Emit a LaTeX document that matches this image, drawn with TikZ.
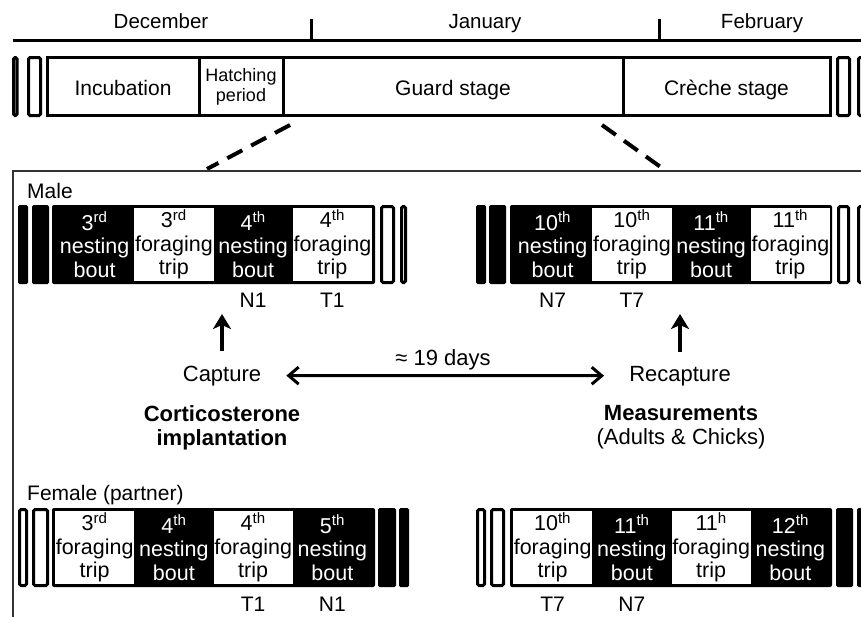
\documentclass[tikz,border=0pt]{standalone}
\usepackage{fontspec}
\setmainfont{Liberation Sans}
\usetikzlibrary{positioning}
\usetikzlibrary{arrows.meta}

\begin{document}
\begin{tikzpicture}[x=1pt,y=-1pt,
  stage/.style={draw,line width=3pt,minimum height=58pt,inner sep=0pt,outer sep=0pt,align=center,font=\fontsize{21}{24}\selectfont},
  stageline/.style={stage,text height=17pt,text depth=0pt},
  barframe/.style={fill=black,rounded corners=2pt,minimum height=79pt,inner sep=0pt,outer sep=0pt},
  nestcell/.style={text=white,minimum width=79.25pt,minimum height=73pt,inner sep=0pt,outer sep=0pt,align=center,font=\fontsize{21.5}{23.5}\selectfont},
  forcell/.style={nestcell,fill=white,text=black},
  endblack/.style={fill=black,rounded corners=1.5pt},
  endwhite/.style={draw,fill=white,line width=3pt,rounded corners=1.5pt},
  lbl/.style={inner sep=0pt,align=center,font=\fontsize{21}{24}\selectfont},
  midlbl/.style={lbl,font=\fontsize{22}{24}\selectfont},
  uparrow/.style={line width=4pt,-{Stealth[length=15pt,width=18pt,inset=4pt]}},
  spanarrow/.style={line width=3pt,{Straight Barb[length=10pt,width=17pt]}-{Straight Barb[length=10pt,width=17pt]}},
  zoomline/.style={line width=4pt,dash pattern=on 17pt off 10pt},
  frame/.style={line width=2.5pt,black!80}]
  \useasboundingbox (0,0) rectangle (861,616);
  \clip (0,0) rectangle (861,616);

  %timeline
  \node[lbl,anchor=base,font=\fontsize{20.5}{24}\selectfont] (dec) at (161,28) {December};
  \node[lbl,anchor=base,font=\fontsize{20.5}{24}\selectfont] (jan) at (485,28) {January};
  \node[lbl,anchor=base,font=\fontsize{20.5}{24}\selectfont] (feb) at (762,28) {February};
  \draw[line width=3pt] (13,40) -- (880,40);
  \draw[line width=3pt] (311,40) -- (311,19) (659,40) -- (659,19);

  %stages
  \node[stageline,minimum width=152pt] (incub) at (123,86.5) {Incubation};
  \node[stage,minimum width=84pt,right=0pt of incub,font=\fontsize{18}{20}\selectfont] (hatch) {Hatching\\period};
  \node[stageline,minimum width=340pt,right=0pt of hatch] (guard) {Guard stage};
  \node[stageline,minimum width=207pt,right=0pt of guard] (creche) {Crèche stage};
  \foreach \a/\b in {13.5/17,28.5/40.5,837.5/849.5,858.5/885}
    \draw[endwhite] (\a,57.5) rectangle (\b,115.5);

  %zoom
  \coordinate (gL) at (290,125);
  \coordinate (bL) at (207,169);
  \coordinate (gR) at (602,125);
  \coordinate (bR) at (662,168);
  \draw[zoomline] (gL) -- (bL);
  \draw[zoomline] (gR) -- (bR);
  \draw[frame] (13,640) -- (13,171) -- (880,171);

  %male
  \node[lbl,anchor=base west] (male) at (27,198) {Male};
  \node[barframe,minimum width=323pt] (mL) at (213.5,244.5) {};
  \foreach \s/\txt [count=\i] in {nestcell/{3\textsuperscript{rd}\\nesting\\bout},forcell/{3\textsuperscript{rd}\\foraging\\trip},nestcell/{4\textsuperscript{th}\\nesting\\bout},forcell/{4\textsuperscript{th}\\foraging\\trip}}
    \node[\s,anchor=west] (mL-\i) at ([xshift={3+(\i-1)*79.25}]mL.west) {\txt};
  \foreach \a/\b in {18/28,32/49}
    \fill[endblack] (\a,205) rectangle (\b,284);
  \foreach \a/\b in {381.5/393.5,401.5/405.5}
    \draw[endwhite] (\a,206.5) rectangle (\b,282.5);
  \node[barframe,minimum width=322pt] (mR) at (671,244.5) {};
  \foreach \s/\txt [count=\i] in {nestcell/{10\textsuperscript{th}\\nesting\\bout},forcell/{10\textsuperscript{th}\\foraging\\trip},nestcell/{11\textsuperscript{th}\\nesting\\bout},forcell/{11\textsuperscript{th}\\foraging\\trip}}
    \node[\s,anchor=west] (mR-\i) at ([xshift={3+(\i-1)*79.25}]mR.west) {\txt};
  \foreach \a/\b in {476/486,489/506}
    \fill[endblack] (\a,205) rectangle (\b,284);
  \foreach \a/\b in {838.5/848.5,858.5/885}
    \draw[endwhite] (\a,206.5) rectangle (\b,282.5);
  \node[lbl,anchor=base] (mN1) at ([yshift=-26pt]mL-3.south) {N1};
  \node[lbl,anchor=base] (mT1) at ([yshift=-26pt]mL-4.south) {T1};
  \node[lbl,anchor=base] (mN7) at ([yshift=-26pt]mR-1.south) {N7};
  \node[lbl,anchor=base] (mT7) at ([yshift=-26pt]mR-2.south) {T7};

  %middle
  \node[midlbl,anchor=base] (capture) at (222,381) {Capture};
  \node[midlbl,anchor=base] (recapture) at (680,381) {Recapture};
  \node[midlbl,anchor=base] (days) at (443,365) {≈ 19 days};
  \node[midlbl,anchor=north,font=\fontsize{22}{24}\selectfont\bfseries] (implant) at (222,405.5) {Corticosterone\\implantation};
  \node[midlbl,anchor=north] (measure) at (681,405.5) {\textbf{Measurements}\\(Adults \& Chicks)};
  \coordinate (capTip) at (222,314);
  \coordinate (recTip) at (680,314);
  \draw[uparrow,shorten <=14pt] (capture) -- (capTip);
  \draw[uparrow,shorten <=14pt] (recapture) -- (recTip);
  \draw[spanarrow,shorten <=25pt,shorten >=25pt] (capture.east) -- (recapture.west);

  %female
  \node[lbl,anchor=base west] (female) at (27,500) {Female (partner)};
  \node[barframe,minimum width=323pt] (fL) at (213.5,547.5) {};
  \foreach \s/\txt [count=\i] in {forcell/{3\textsuperscript{rd}\\foraging\\trip},nestcell/{4\textsuperscript{th}\\nesting\\bout},forcell/{4\textsuperscript{th}\\foraging\\trip},nestcell/{5\textsuperscript{th}\\nesting\\bout}}
    \node[\s,anchor=west] (fL-\i) at ([xshift={3+(\i-1)*79.25}]fL.west) {\txt};
  \foreach \a/\b in {19.5/26.5,33.5/47.5}
    \draw[endwhite] (\a,509.5) rectangle (\b,585.5);
  \foreach \a/\b in {378/396,399/409}
    \fill[endblack] (\a,508) rectangle (\b,587);
  \node[barframe,minimum width=322pt] (fR) at (671,547.5) {};
  \foreach \s/\txt [count=\i] in {forcell/{10\textsuperscript{th}\\foraging\\trip},nestcell/{11\textsuperscript{th}\\nesting\\bout},forcell/{11\textsuperscript{h}\\foraging\\trip},nestcell/{12\textsuperscript{th}\\nesting\\bout}}
    \node[\s,anchor=west] (fR-\i) at ([xshift={3+(\i-1)*79.25}]fR.west) {\txt};
  \foreach \a/\b in {477.5/484.5,491.5/503.5}
    \draw[endwhite] (\a,509.5) rectangle (\b,585.5);
  \foreach \a/\b in {836/853,857/885}
    \fill[endblack] (\a,508) rectangle (\b,587);
  \node[lbl,anchor=base] (fT1) at ([yshift=-27pt]fL-3.south) {T1};
  \node[lbl,anchor=base] (fN1) at ([yshift=-27pt]fL-4.south) {N1};
  \node[lbl,anchor=base] (fT7) at ([yshift=-27pt]fR-1.south) {T7};
  \node[lbl,anchor=base] (fN7) at ([yshift=-27pt]fR-2.south) {N7};
\end{tikzpicture}
\end{document}
